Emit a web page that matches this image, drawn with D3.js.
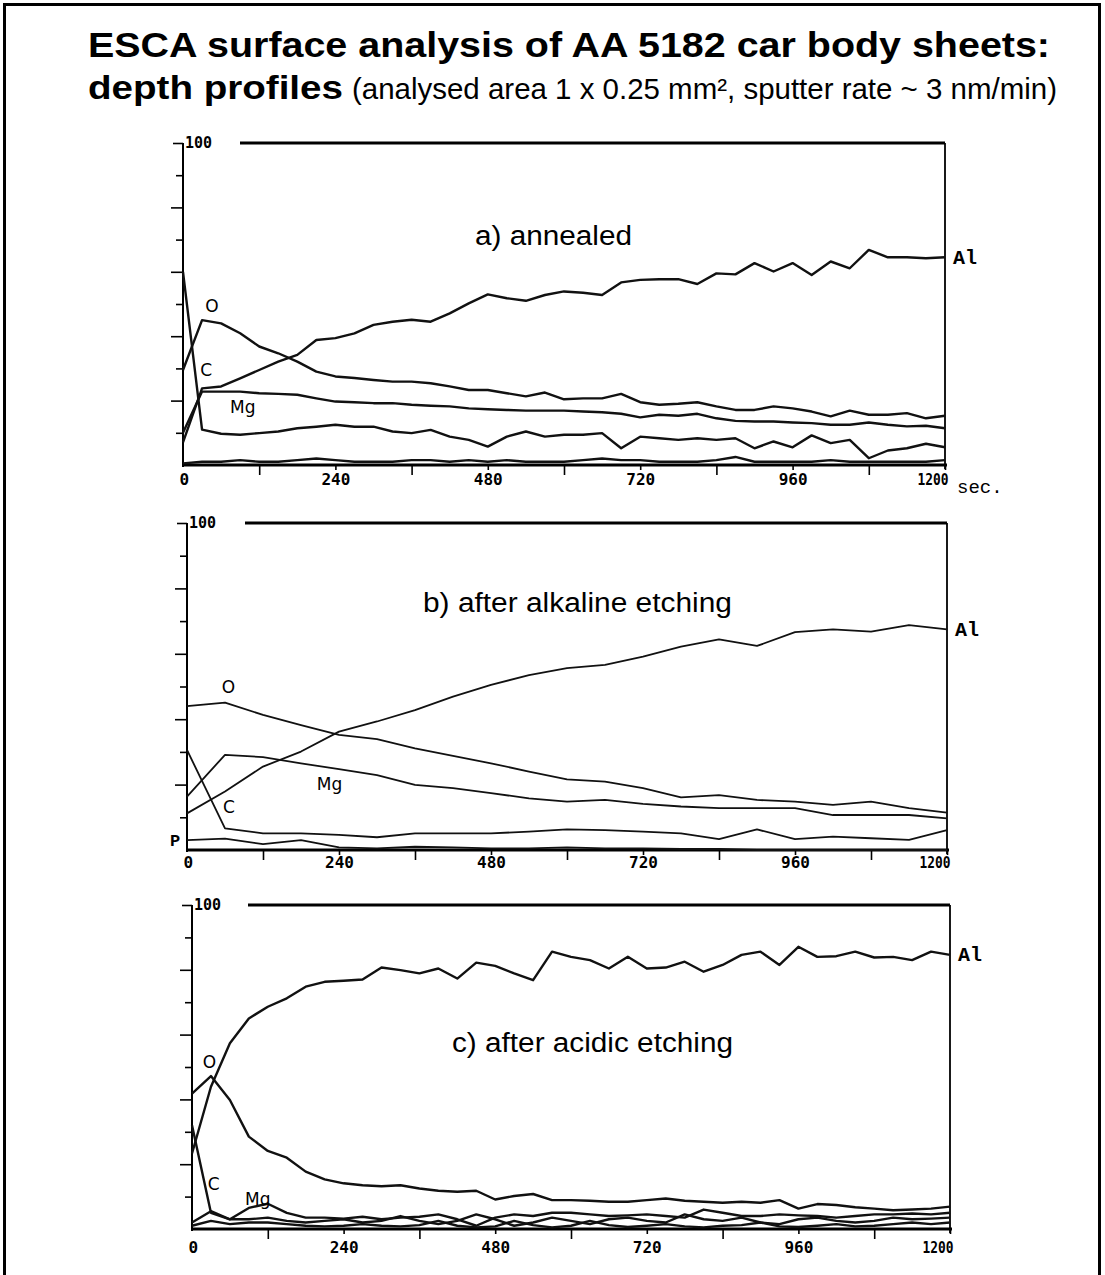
<!DOCTYPE html>
<html>
<head>
<meta charset="utf-8">
<script src="https://cdn.jsdelivr.net/npm/d3@7"></script>
<style>
  body { margin: 0; background: #fff; }
</style>
</head>
<body>
<div class="chart"></div>
<script>

// sputter time grids (sec.)
var t30 = [0,30,60,90,120,150,180,210,240,270,300,330,360,390,420,450,480,510,540,570,600,
           630,660,690,720,750,780,810,840,870,900,930,960,990,1020,1050,1080,1110,1140,1170,1200];
var t60 = [0,60,120,180,240,300,360,420,480,540,600,660,720,780,840,900,960,1020,1080,1140,1200];

var xLabelTicks = [0, 240, 480, 720, 960, 1200];
var xMinorTicks = [120, 360, 600, 840, 1080];
var yTicks = [0, 10, 20, 30, 40, 50, 60, 70, 80, 90, 100];

// a) annealed  (at.-%)
var aAl = [7,23.8,24.4,26.9,29.5,32.1,34.2,38.8,39.4,40.9,43.5,44.5,45.1,44.5,47.1,50.2,53,51.8,51,52.8,53.9,
           53.5,52.8,56.7,57.5,57.7,57.7,56.2,59.5,59.2,62.7,60.1,62.7,59,63.2,61.1,66.8,64.5,64.5,64.2,64.5];
var aO  = [29.5,45,44,40.9,36.8,34.7,32.1,29,27.5,27,26.4,25.9,25.9,25.4,24.4,23.3,23.3,22.3,21.3,22.5,20.4,
           20.7,20.7,22.1,19.5,18.7,19,19.5,18.2,17.1,17.1,18.2,17.6,16.6,15.1,16.9,15.6,15.6,16.1,14.5,15.3];
var aMg = [10,22.8,22.8,22.8,22.3,22.1,21.8,20.7,19.7,19.5,19.2,19.2,18.7,18.4,18.2,17.6,17.3,17.1,16.9,16.9,16.9,
           16.6,16.4,15.9,14.8,15.6,15.3,15.9,14.5,13.7,13.5,13.5,13.2,13,12.5,12.5,13.2,12.5,12,12.2,11.4];
var aC  = [60,11,9.7,9.4,9.9,10.4,11.4,11.9,12.5,11.9,11.9,10.4,9.9,10.9,8.8,7.8,5.7,8.8,10.4,8.8,9.4,
           9.4,9.9,5.2,8.8,8.3,7.8,8.3,7.8,8.3,5.2,7.3,5.5,9.2,6.8,7.8,2.1,4.5,5.2,6.6,5.5];
var aP  = [0.5,1,1,1.5,1,1,1.5,2,1.5,1,1,1,1.5,1.5,1,1.5,1,1.5,1,1,1,
           1.5,2,1.5,1.5,1,1,1,1.5,2.5,1,1,1,1,1.5,1,1,1,1,1,1.5];

// b) after alkaline etching
var bAl = [11.2,17.9,25.5,30.1,36.2,39.3,42.8,46.9,50.5,53.5,55.6,56.6,59.1,62.2,64.4,62.4,66.6,67.5,66.8,68.8,67.5];
var bO  = [44,45.1,41.3,38.2,35.2,33.9,31.1,28.8,26.5,24,21.6,20.9,18.9,16.1,16.8,15.3,14.8,13.8,14.8,12.8,11.4];
var bMg = [16.3,29.1,28.4,26.5,24.7,22.9,19.9,18.9,17.4,15.8,14.8,15.3,14.1,13.3,12.8,12.8,12.8,10.7,10.7,10.7,9.7];
var bC  = [30.6,6.6,5.1,5.1,4.6,3.9,5.1,5.1,5.1,5.6,6.3,6.1,5.6,5.1,3.3,6.3,3.3,4.1,3.6,3.1,6.1];
var bP  = [3,3.5,1.8,3,0.8,0.5,1,0.8,0.5,0.5,0.8,0.5,0.5,0.3,0.3,0,0,0,0,0,0];

// c) after acidic etching
var cAl = [23.3,43.9,57.3,65,68.6,71.2,74.8,76.3,76.6,77,80.7,79.9,78.9,80.4,77.3,82.2,81.2,78.9,76.8,85.6,84,
           83,80.4,84,80.4,80.7,82.5,79.4,81.5,84.6,85.6,81.5,87.1,84,84.2,85.6,83.8,84,83,85.6,84.6];
var cO  = [41.8,47.2,39.8,28.5,24.1,22,17.7,15.3,14.1,13.5,13.2,13.5,12.5,11.8,11.5,11.8,9.1,10.2,10.8,8.9,8.9,
           8.7,8.4,8.4,8.9,9.4,8.7,8.4,8.1,8.4,8.1,8.9,6.3,7.7,7.4,6.7,6.3,5.8,6,6.3,6.9];
var cMg = [2,5.5,3,6.5,7.8,5,3.5,3.5,3.2,3.8,3,3.5,3.8,4.5,3,1,3.5,4.5,4,5,5,
           4.5,4,4.2,4.5,4,3.5,6,5,4,4,4.5,4.2,4,3.5,4,4.5,4.5,4.8,4.5,5];
var cC  = [32,5,3,3,3.5,2.5,2,2.5,3,2,2.5,4,2.5,1.5,2.5,4.5,3,1,2,3.5,2.5,
           1.5,3,3.5,2.5,2,4.5,3,2.5,3.5,2,1.5,3,3.5,2.5,2,2.5,3.5,3,3.2,3.5];
var cP  = [1,2.5,1.5,2,2,1.5,1,0.8,1,1.5,1,0.8,1.2,2.5,1,0.5,0.8,2.5,1.2,0.5,1,
           2.5,1.2,0.6,1,1.5,0.8,0.5,1,1.2,2,0.8,0.6,1,1.5,0.8,1,1.5,2,1.5,2];

// panel layout
var panels = [
  {left: 183, right: 945, top: 143, bottom: 465, ruleX: 240, tickPad: 4, lineW: 2.4,
   time: t30, series: [aAl, aO, aMg, aC, aP], al: aAl, sec: true,
   title: "a) annealed", titleX: 475, titleY: 245, titleW: 157,
   labels: [{text: "O", t: 35, v: 47.5}, {text: "C", t: 27, v: 27.6}, {text: "Mg", t: 74, v: 16.1}]},
  {left: 187, right: 947, top: 523, bottom: 850, ruleX: 245, tickPad: 2, lineW: 1.8,
   time: t60, series: [bAl, bO, bMg, bC, bP], al: bAl, sec: false,
   title: "b) after alkaline etching", titleX: 423, titleY: 612, titleW: 309,
   labels: [{text: "O", t: 55, v: 48}, {text: "Mg", t: 205, v: 18.3}, {text: "C", t: 57, v: 11.3},
            {text: "P", t: -27, v: 1.2, mono: true}]},
  {left: 192, right: 950, top: 905, bottom: 1229, ruleX: 248, tickPad: 8, lineW: 2.4,
   time: t30, series: [cAl, cO, cMg, cC, cP], al: cAl, sec: false,
   title: "c) after acidic etching", titleX: 452, titleY: 1052, titleW: 281,
   labels: [{text: "O", t: 17, v: 49.7}, {text: "C", t: 25, v: 12}, {text: "Mg", t: 84, v: 7.4}]}
];

var svg = d3.select(".chart")
    .append("svg")
    .attr("width", 1105)
    .attr("height", 1275);

// page frame
svg.append("path")
    .attr("d", "M4.5,1275 V4.5 H1099.5 V1275")
    .attr("fill", "none")
    .attr("stroke", "#000")
    .attr("stroke-width", 3);

// heading
svg.append("text")
    .attr("x", 88).attr("y", 57)
    .attr("font-family", "Liberation Sans, Arial, sans-serif")
    .attr("font-weight", "bold").attr("font-size", 35)
    .attr("textLength", 962).attr("lengthAdjust", "spacingAndGlyphs")
    .text("ESCA surface analysis of AA 5182 car body sheets:");
svg.append("text")
    .attr("x", 88).attr("y", 99)
    .attr("font-family", "Liberation Sans, Arial, sans-serif")
    .attr("font-weight", "bold").attr("font-size", 34)
    .attr("textLength", 255).attr("lengthAdjust", "spacingAndGlyphs")
    .text("depth profiles");
svg.append("text")
    .attr("x", 352).attr("y", 99)
    .attr("font-family", "Liberation Sans, Arial, sans-serif")
    .attr("font-size", 29)
    .attr("textLength", 705).attr("lengthAdjust", "spacingAndGlyphs")
    .text("(analysed area 1 x 0.25 mm², sputter rate ~ 3 nm/min)");

panels.forEach(function(p) {
    var x = d3.scaleLinear().domain([0, 1200]).range([p.left, p.right]);
    var y = d3.scaleLinear().domain([0, 100]).range([p.bottom, p.top]);
    var g = svg.append("g");

    // x axis: labels every 240 s, ticks every 120 s
    var bottomAxis = d3.axisBottom(x)
        .tickValues(xLabelTicks.concat(xMinorTicks))
        .tickSize(5)
        .tickPadding(p.tickPad)
        .tickFormat(d => xLabelTicks.indexOf(d) >= 0 ? d : "");
    var xg = g.append("g")
        .attr("transform", `translate(0,${p.bottom})`)
        .call(bottomAxis);
    xg.select(".domain").remove();
    xg.selectAll(".tick line")
        .attr("y2", d => d === 0 ? 0 : (d % 240 === 0 ? 5 : 10))
        .attr("stroke", "#000").attr("stroke-width", 1.6);
    xg.selectAll(".tick text")
        .attr("font-family", "DejaVu Sans Mono, monospace")
        .attr("font-weight", "bold").attr("font-size", 16)
        .attr("fill", "#000")
        .attr("text-anchor", d => d === 0 ? "start" : (d === 1200 ? "end" : "middle"))
        .attr("dx", d => d === 0 ? -4 : (d === 1200 ? 3 : 0))
        .filter(d => d === 1200)
        .attr("textLength", 31).attr("lengthAdjust", "spacingAndGlyphs");

    // y axis: tick marks only
    var leftAxis = d3.axisLeft(y).tickValues(yTicks).tickSize(7).tickFormat("");
    var yg = g.append("g")
        .attr("transform", `translate(${p.left},0)`)
        .call(leftAxis);
    yg.select(".domain").remove();
    yg.selectAll(".tick line")
        .attr("x2", d => d === 0 ? 0 : (d === 100 ? -10 : (d % 20 === 0 ? -12 : -7)))
        .attr("stroke", "#000").attr("stroke-width", 1.6);

    // frame lines
    g.append("line")
        .attr("x1", p.left).attr("x2", p.left)
        .attr("y1", y(100)).attr("y2", y(0) + 2)
        .attr("stroke", "#000").attr("stroke-width", 2);
    g.append("line")
        .attr("x1", p.left).attr("x2", p.right + 2)
        .attr("y1", y(0)).attr("y2", y(0))
        .attr("stroke", "#000").attr("stroke-width", 2.8);
    g.append("line")
        .attr("x1", p.ruleX).attr("x2", p.right)
        .attr("y1", y(100)).attr("y2", y(100))
        .attr("stroke", "#000").attr("stroke-width", 2.8);
    g.append("line")
        .attr("x1", p.right).attr("x2", p.right)
        .attr("y1", y(100)).attr("y2", y(0) + 4)
        .attr("stroke", "#000").attr("stroke-width", 1.8);

    // "100" at the top of the scale
    g.append("text")
        .attr("x", p.left + 2).attr("y", y(100)).attr("dy", "0.36em")
        .attr("font-family", "DejaVu Sans Mono, monospace")
        .attr("font-weight", "bold").attr("font-size", 15)
        .text("100");

    // profiles
    var line = d3.line()
        .x((d, i) => x(p.time[i]))
        .y(d => y(d));
    g.selectAll(".profile")
        .data(p.series)
        .join("path")
        .classed("profile", true)
        .attr("d", line)
        .attr("fill", "none")
        .attr("stroke", "#111")
        .attr("stroke-width", p.lineW)
        .attr("stroke-linejoin", "round");

    // element names
    g.selectAll(".elem")
        .data(p.labels)
        .join("text")
        .classed("elem", true)
        .attr("x", d => x(d.t))
        .attr("y", d => y(d.v))
        .attr("font-family", d => d.mono ? "Liberation Mono, monospace" : "DejaVu Sans, sans-serif")
        .attr("font-weight", d => d.mono ? "bold" : "normal")
        .attr("font-size", 17)
        .text(d => d.text);

    g.append("text")
        .attr("x", p.right + 8)
        .attr("y", y(p.al[p.al.length - 1])).attr("dy", "0.33em")
        .attr("font-family", "Liberation Mono, monospace")
        .attr("font-weight", "bold").attr("font-size", 20)
        .text("Al");

    if (p.sec) {
        g.append("text")
            .attr("x", p.right + 12).attr("y", y(0) + 28)
            .attr("font-family", "Liberation Mono, monospace")
            .attr("font-size", 19)
            .text("sec.");
    }

    // panel caption
    g.append("text")
        .attr("x", p.titleX).attr("y", p.titleY)
        .attr("font-family", "Liberation Sans, Arial, sans-serif")
        .attr("font-size", 27)
        .attr("textLength", p.titleW).attr("lengthAdjust", "spacingAndGlyphs")
        .text(p.title);
});

</script>
</body>
</html>
